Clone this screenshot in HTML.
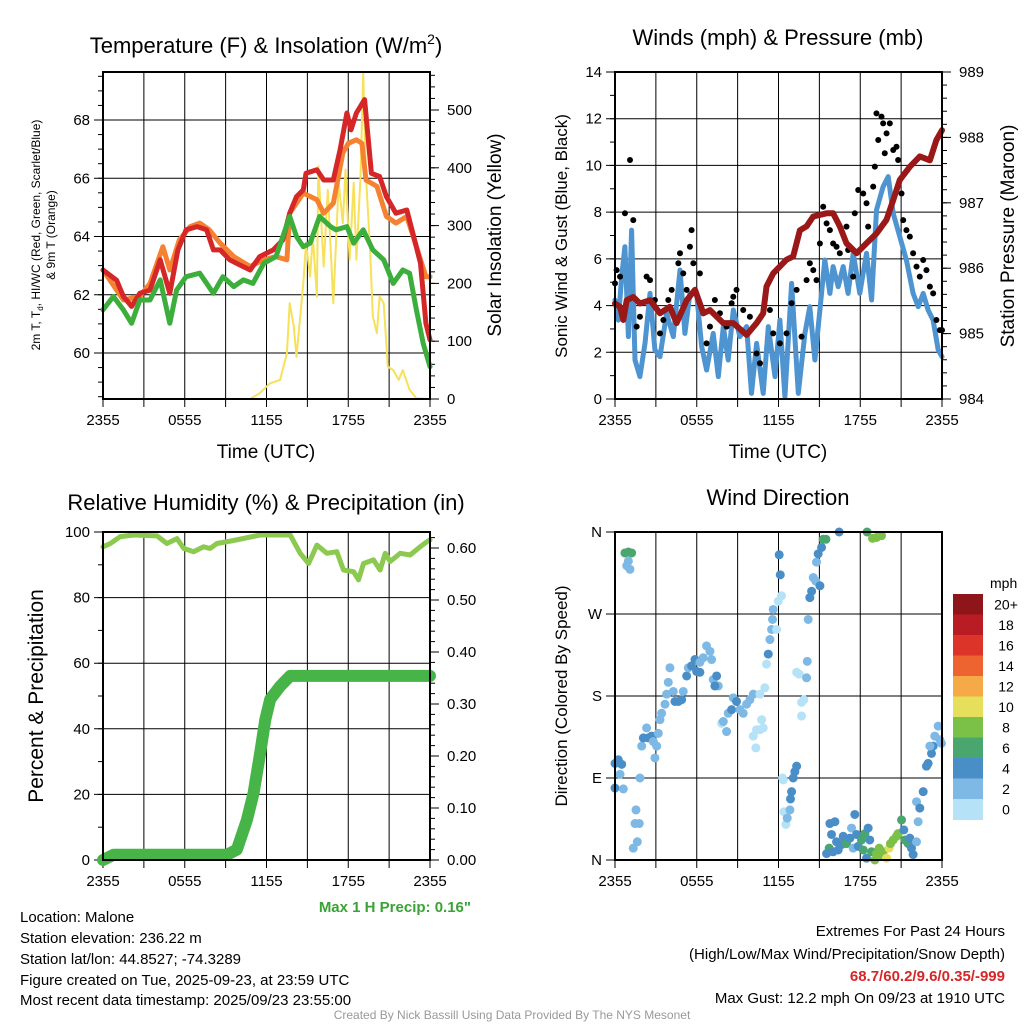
<!DOCTYPE html>
<html><head><meta charset="utf-8">
<style>
html,body{margin:0;padding:0;background:#fff;}
svg{display:block;font-family:"Liberation Sans",Arial,sans-serif;}
</style></head>
<body>
<svg id="chart" width="1024" height="1024" viewBox="0 0 1024 1024" xmlns="http://www.w3.org/2000/svg">
<rect width="1024" height="1024" fill="#fff"/>
<g id="p1"></g>
<g id="p2"></g>
<g id="p3"></g>
<g id="p4"></g>

<text x="266" y="53" font-size="22" text-anchor="middle">Temperature (F) &amp; Insolation (W/m<tspan font-size="14" dy="-9">2</tspan><tspan dy="9">)</tspan></text>
<text x="778" y="45" font-size="22" text-anchor="middle">Winds (mph) &amp; Pressure (mb)</text>
<text x="266" y="510" font-size="22" text-anchor="middle">Relative Humidity (%) &amp; Precipitation (in)</text>
<text x="778" y="505" font-size="22" text-anchor="middle">Wind Direction</text>

<text x="266" y="458" font-size="19" text-anchor="middle">Time (UTC)</text>
<text x="778" y="458" font-size="19" text-anchor="middle">Time (UTC)</text>

<text transform="translate(40,235) rotate(-90)" font-size="12" text-anchor="middle">2m T, T<tspan font-size="8" dy="3">d</tspan><tspan dy="-3">, HI/WC (Red, Green, Scarlet/Blue)</tspan></text>
<text transform="translate(55,235) rotate(-90)" font-size="12" text-anchor="middle">&amp; 9m T (Orange)</text>
<text transform="translate(501,235) rotate(-90)" font-size="19" text-anchor="middle">Solar Insolation (Yellow)</text>
<text transform="translate(567,236) rotate(-90)" font-size="17" text-anchor="middle">Sonic Wind &amp; Gust (Blue, Black)</text>
<text transform="translate(1014,236) rotate(-90)" font-size="19" text-anchor="middle">Station Pressure (Maroon)</text>
<text transform="translate(43,696) rotate(-90)" font-size="21" text-anchor="middle">Percent &amp; Precipitation</text>
<text transform="translate(567,696) rotate(-90)" font-size="17" text-anchor="middle">Direction (Colored By Speed)</text>

<text x="471" y="912" font-size="15" font-weight="bold" fill="#3aa335" text-anchor="end">Max 1 H Precip: 0.16"</text>

<g font-size="15">
<text x="20" y="922">Location: Malone</text>
<text x="20" y="943">Station elevation: 236.22 m</text>
<text x="20" y="964">Station lat/lon: 44.8527; -74.3289</text>
<text x="20" y="985">Figure created on Tue, 2025-09-23, at 23:59 UTC</text>
<text x="20" y="1005">Most recent data timestamp: 2025/09/23 23:55:00</text>
</g>
<g font-size="15" text-anchor="end">
<text x="1005" y="936">Extremes For Past 24 Hours</text>
<text x="1005" y="959">(High/Low/Max Wind/Precipitation/Snow Depth)</text>
<text x="1005" y="981" font-weight="bold" fill="#d62728">68.7/60.2/9.6/0.35/-999</text>
<text x="1005" y="1003">Max Gust: 12.2 mph On 09/23 at 1910 UTC</text>
</g>
<text x="512" y="1019" font-size="12" fill="#999" text-anchor="middle">Created By Nick Bassill Using Data Provided By The NYS Mesonet</text>
</svg>
<script>
// ---------- DATA ----------
const timeLabels = ["2355","0555","1155","1755","2355"];
// Temperature panel
const redHours = [0,1.0,1.5,2.1,2.7,3.45,4.2,4.9,5.5,6.1,6.9,7.6,8.1,8.6,9.3,9.8,10.8,11.5,12.5,13.2,13.7,14.2,14.7,14.9,15.7,16.2,16.9,17.4,17.9,18.2,18.6,19.2,19.7,20.3,20.8,21.5,22.3,22.8,23.3,23.7,24];
const redTemp = [62.85,62.5,61.94,61.6,62.05,62.16,63.2,62.05,63.54,64.23,64.34,64.23,63.54,63.54,63.2,63.08,62.85,63.31,63.54,63.88,64.8,65.37,65.6,66.17,66.29,65.94,65.94,66.98,68.24,67.66,68.24,68.7,66.17,66.06,65.37,64.8,64.91,64.0,63.08,61.02,60.45];
const orangeHours = [0,1.5,2.7,3.45,4.4,4.9,5.6,6.4,7.1,7.8,8.6,9.6,10.8,11.8,12.7,13.5,13.7,14.7,15.7,16.2,16.9,17.6,18.0,18.6,19.0,19.3,20.1,20.8,21.5,22.3,23.0,23.7,24];
const orangeTemp = [62.85,61.82,61.94,62.39,63.65,62.85,63.88,64.34,64.46,64.23,63.77,63.31,62.97,63.2,63.31,63.2,64.8,65.49,65.26,64.8,65.14,66.86,67.2,67.32,67.2,65.94,65.72,64.69,64.46,64.69,63.65,62.62,62.62];
const greenHours = [0,0.76,1.5,2.1,2.7,3.45,4.2,4.9,5.4,6.1,7.1,8.1,8.8,9.6,10.3,11.0,11.8,12.7,13.7,14.2,14.7,15.2,15.9,16.7,17.1,17.9,18.4,19.1,19.8,20.6,21.3,22.0,22.5,23.0,23.5,24];
const greenTemp = [61.48,61.94,61.48,61.02,61.82,61.82,62.51,61.02,62.16,62.62,62.74,62.05,62.62,62.28,62.51,62.39,63.08,63.31,64.69,64.0,63.65,63.77,64.69,64.34,64.23,64.34,63.77,64.23,63.54,63.2,62.39,62.85,62.74,61.48,60.33,59.53];
const solarHours = [0,10.8,11.5,12.25,13.0,13.5,13.7,14.0,14.2,14.7,14.9,15.2,15.4,15.7,15.8,16.2,16.5,16.9,17.3,17.6,17.8,18.1,18.4,18.6,18.9,19.1,19.3,19.6,19.8,20.1,20.3,20.6,20.9,21.3,21.7,22.0,22.5,23.0,24];
const solarWm2 = [0,0,10,27,33,79,166,125,73,200,270,212,281,177,403,229,362,166,374,304,397,241,374,241,385,564,385,258,143,114,177,166,56,50,33,50,16,1,0];
// Wind panel
const windHours = [0,0.24,0.49,0.73,0.98,1.22,1.47,1.83,2.2,2.57,2.93,3.3,3.79,4.28,4.77,5.13,5.5,5.99,6.36,6.72,7.21,7.58,7.95,8.31,8.68,9.17,9.66,10.02,10.39,10.88,11.25,11.74,12.1,12.47,12.96,13.45,13.94,14.3,14.67,15.04,15.4,15.77,16.01,16.38,16.75,17.11,17.48,17.97,18.46,18.83,19.19,19.68,20.05,20.42,20.9,21.39,21.88,22.25,22.62,22.98,23.35,23.72,24];
const windMph = [4.24,3.38,5.24,6.52,2.67,7.23,1.67,0.96,2.38,4.52,2.1,1.81,3.67,2.67,5.52,2.81,4.52,4.52,2.24,1.24,2.81,0.96,3.1,1.67,3.81,2.67,3.1,0.24,2.38,0.24,3.1,0.96,3.38,0.1,4.95,0.24,2.81,3.95,1.67,3.81,5.95,4.52,5.67,4.81,5.67,4.52,6.24,4.52,6.24,4.24,8.09,9.09,9.52,7.95,6.95,5.95,4.52,3.95,4.52,3.81,3.38,2.1,1.81];
const gustHours = [0,0.12,0.37,0.73,1.1,1.34,1.59,1.83,2.32,2.57,2.93,3.3,3.55,3.91,4.16,4.65,4.77,5.01,5.26,5.5,5.62,5.75,6.23,6.48,6.72,6.97,7.33,7.7,8.19,8.56,8.68,8.92,9.41,9.9,10.39,10.64,11.37,11.61,12.1,12.59,12.96,13.33,13.69,14.06,14.3,14.55,14.79,15.04,15.28,15.53,15.77,16.01,16.26,16.5,16.99,17.11,17.48,17.6,17.85,18.22,18.46,18.58,18.95,19.07,19.19,19.32,19.56,19.68,19.8,19.93,20.17,20.42,20.66,20.78,21.03,21.15,21.39,21.64,21.88,22.13,22.37,22.62,22.86,23.11,23.35,23.59,23.84,24];
const gustMph = [4.95,5.52,5.24,7.95,10.23,7.66,3.1,3.52,5.24,5.09,4.24,2.81,3.38,4.24,4.67,5.81,6.24,5.38,4.67,6.52,7.23,5.81,5.38,3.67,2.38,3.1,4.24,3.67,3.1,4.1,4.38,4.67,3.81,3.52,1.95,1.53,3.81,2.81,2.38,2.81,4.1,4.67,2.67,5.09,5.81,5.52,5.09,6.66,8.23,7.52,7.23,6.66,6.52,6.24,7.38,6.38,5.24,7.95,8.95,8.8,8.38,7.38,9.09,9.95,12.23,11.09,12.09,11.8,10.52,11.37,11.8,10.66,10.8,10.23,8.8,7.66,7.23,6.95,6.24,5.67,5.24,5.95,5.52,4.81,4.52,3.38,2.95,2.95];
const presHours = [0,0.37,0.61,0.86,1.34,1.83,2.57,3.3,4.03,4.52,5.26,5.87,6.48,6.97,7.95,8.68,9.66,10.39,10.88,11.12,11.61,12.59,13.08,13.57,14.06,14.55,15.53,16.01,16.5,16.99,17.73,18.46,19.19,19.93,20.42,20.9,21.64,22.37,23.11,23.59,24];
const presMb = [985.46,985.41,985.21,985.51,985.56,985.46,985.51,985.31,985.41,985.16,985.51,985.67,985.31,985.36,985.16,985.16,984.98,985.16,985.31,985.72,985.92,986.13,986.18,986.58,986.64,986.79,986.84,986.84,986.64,986.38,986.23,986.38,986.53,986.74,987.04,987.35,987.55,987.71,987.65,987.96,988.11];
// Humidity panel
const rhHours = [0,0.54,1.27,2.25,3.96,4.69,5.43,5.92,6.65,7.38,7.87,8.36,9.58,11.54,13.74,14.47,15.09,15.7,16.43,17.16,17.65,18.39,18.75,19.12,19.85,20.34,20.71,21.08,21.81,22.54,23.28,23.77,24];
const rhPct = [95.5,96.5,98.6,99.1,98.8,96.5,98,95,94,95.5,95,96.5,97.4,99.1,99.1,93.5,90.4,96,93.5,94,88.4,87.9,85.4,90.4,91.5,88.4,93.5,91,93.5,93,95.5,97,97.6];
const precipHours = [0,0.78,9.1,9.83,10.56,11.05,11.54,11.91,12.27,13.0,13.74,24];
const precipIn = [0,0.01,0.01,0.02,0.077,0.129,0.206,0.27,0.309,0.334,0.354,0.354];
// Wind direction panel
const dirHours = [0,0.24,0.49,0.37,0,0.61,0.73,0.98,1.22,0.98,0.86,1.1,1.83,1.54,1.47,1.78,1.34,1.64,1.96,2.32,2.08,2.44,2.69,2.81,3.06,2.93,3.18,3.3,3.42,3.67,3.79,3.91,4.03,4.28,4.4,4.65,4.89,5.01,5.26,5.38,5.62,5.87,5.99,6.23,6.23,6.48,6.72,6.97,7.09,7.21,7.46,7.58,7.33,7.82,7.95,8.19,8.31,8.56,8.68,8.92,9.17,9.41,9.66,9.9,10.15,10.64,11.0,10.15,10.39,10.64,10.88,10.76,10.34,11.12,11.25,11.37,11.49,11.56,11.61,11.86,11.98,12.22,12.05,12.13,12.3,12.35,12.4,12.54,12.64,12.84,12.88,12.96,13.08,13.2,13.33,13.33,13.52,13.69,13.86,13.69,14.06,14.11,14.18,14.3,14.43,14.55,14.74,14.79,14.91,15.04,15.16,15.28,15.48,16.45,18.5,18.9,19.19,19.56,
15.77,15.89,16.14,16.26,15.72,15.53,16.01,16.38,16.63,16.75,16.99,17.24,17.36,17.48,17.6,17.73,17.85,18.09,18.22,18.34,18.46,18.58,18.7,18.83,19.07,19.19,19.39,19.56,19.68,19.93,20.12,20.22,20.42,20.66,20.78,21.03,21.2,21.27,21.52,21.64,21.76,21.88,22.13,22.25,22.13,22.37,22.62,22.86,22.98,23.23,23.35,23.47,23.72,23.84,23.96,23.11];
const dirDeg = [106,110,105,94,79,78,337,338,337,328,323,319,90,55,40,40,13,20,125,145,134,134,136,130,125,112,139,154,161,171,182,195,211,185,174,174,176,185,202,211,213,220,207,206,217,222,235,229,220,198,202,191,191,150,152,141,161,165,178,174,165,161,171,176,182,182,189,136,143,143,145,154,123,215,226,242,253,264,275,253,284,290,335,313,90,88,53,39,46,55,67,75,90,97,103,206,204,173,176,158,200,218,264,288,295,310,306,327,336,301,343,352,352,360,360,353,354,356,
40,28,42,20,13,7,9,11,17,26,18,24,35,13,50,28,15,22,11,29,2,35,22,9,0,7,13,4,9,2,13,18,22,26,29,44,33,22,18,24,13,6,20,42,64,57,75,103,106,117,125,136,147,132,128,125];
const dirMph = [5,5,5,3,5,3,7,7,7,3,3,3,3,3,3,3,3,3,3,3,5,5,5,3,3,3,3,3,3,3,3,3,3,3,5,5,5,3,5,3,5,5,5,5,3,3,3,3,3,3,5,3,5,1,3,3,3,5,3,5,3,3,3,3,3,1,1,1,1,1,1,1,1,1,5,3,3,3,3,1,1,1,5,5,1,1,1,1,3,3,5,5,5,5,5,1,1,1,1,1,3,3,3,5,5,3,3,3,5,5,5,7,7,5,7,9,9,9,
5,5,5,5,7,5,5,5,5,5,7,5,3,3,5,5,5,7,7,7,5,5,5,7,9,9,9,9,9,11,11,9,9,9,9,7,5,7,7,5,5,5,3,3,3,5,5,5,5,5,5,3,3,3,3,3];
const speedBins = ["0","2","4","6","8","10","12","14","16","18","20+"];
const speedColors = ["#b5e2f7","#7db9e4","#4a8ec7","#4aa66f","#7cc147","#e6df5b","#f6aa47","#ee6430","#dc3429","#ba1c24","#8e1519"];

// ---------- HELPERS ----------
const NS = "http://www.w3.org/2000/svg";
function mk(parent, tag, attrs){ const e=document.createElementNS(NS,tag); for(const k in attrs) e.setAttribute(k,attrs[k]); parent.appendChild(e); return e; }
function linScale(d0,d1,r0,r1){ return v => r0 + (v-d0)/(d1-d0)*(r1-r0); }
function polyline(g, xs, ys, xS, yS, color, w, name){
  const pts = xs.map((x,i)=>xS(x).toFixed(1)+","+yS(ys[i]).toFixed(1)).join(" ");
  const p = mk(g,"polyline",{points:pts,fill:"none",stroke:color,"stroke-width":w,"stroke-linejoin":"round","stroke-linecap":"round"});
  
  
  return p;
}

function frame(g, L, T, R, B, xS, yTicks, yS, yLabels, yMinor, rTicks, rS, rLabels, rMinor){
  for(let h=0; h<=24; h+=3){
    const x=xS(h);
    const l=mk(g,"line",{x1:x,y1:T,x2:x,y2:B,stroke:"#000","stroke-width":1});
    
    
    const t=mk(g,"line",{x1:x,y1:B,x2:x,y2:B+8,stroke:"#000","stroke-width":1});
    
    
  }
  timeLabels.forEach((lab,i)=>{
    const tx=mk(g,"text",{x:xS(i*6),y:B+26,"font-size":15,"text-anchor":"middle"}); tx.textContent=lab;
    
    
  });
  yTicks.forEach((v,i)=>{
    const y=yS(v);
    const l=mk(g,"line",{x1:L-9,y1:y,x2:R,y2:y,stroke:"#000","stroke-width":1});
    
    
    if(yLabels){ const tx=mk(g,"text",{x:L-13,y:y+5,"font-size":15,"text-anchor":"end"}); tx.textContent=yLabels[i];
      
       }
  });
  yMinor.forEach(v=>{ const y=yS(v); const l=mk(g,"line",{x1:L-5,y1:y,x2:L,y2:y,stroke:"#000","stroke-width":1});
    
     });
  if(rTicks){
    rTicks.forEach((v,i)=>{ const y=rS(v);
      const l=mk(g,"line",{x1:R,y1:y,x2:R+9,y2:y,stroke:"#000","stroke-width":1});
      
      
      const tx=mk(g,"text",{x:R+17,y:y+5,"font-size":15}); tx.textContent=rLabels[i];
      
      
    });
    rMinor.forEach(v=>{ const y=rS(v); const l=mk(g,"line",{x1:R,y1:y,x2:R+5,y2:y,stroke:"#000","stroke-width":1});
      
       });
  }
}
function border(g,L,T,R,B){
  const r=mk(g,"rect",{x:L,y:T,width:R-L,height:B-T,fill:"none",stroke:"#000","stroke-width":2});
  
  
}
function range(a,b,s){ const o=[]; for(let v=a; v<=b+1e-9; v+=s) o.push(+v.toFixed(4)); return o; }

// ---------- PANEL 1 ----------
(function(){
  const g=document.getElementById("p1");
  const L=103,T=72,R=430,B=399;
  const xS=linScale(0,24,L,R);
  const yS=linScale(60,68,353,120);
  const sS=linScale(0,500,399,110);
  frame(g,L,T,R,B,xS,[60,62,64,66,68],yS,["60","62","64","66","68"],range(58.5,69.5,0.5),
        [0,100,200,300,400,500],sS,["0","100","200","300","400","500"],range(0,560,20));
  polyline(g,solarHours,solarWm2,xS,sS,"#f7e15a",2,"solar-insolation-line");
  polyline(g,orangeHours,orangeTemp,xS,yS,"#f58231",5,"temp-9m-line");
  polyline(g,redHours,redTemp,xS,yS,"#d62728",5,"temp-2m-line");
  polyline(g,greenHours,greenTemp,xS,yS,"#3cae3c",5,"dewpoint-line");
  border(g,L,T,R,B);
})();

// ---------- PANEL 2 ----------
(function(){
  const g=document.getElementById("p2");
  const L=615,T=72,R=942,B=399;
  const xS=linScale(0,24,L,R);
  const yS=linScale(0,14,B,T);
  const pS=linScale(984,989,B,T);
  frame(g,L,T,R,B,xS,[0,2,4,6,8,10,12,14],yS,["0","2","4","6","8","10","12","14"],range(0,14,1),
        [984,985,986,987,988,989],pS,["984","985","986","987","988","989"],range(984,989,0.2));
  polyline(g,windHours,windMph,xS,yS,"#4d94d0",5,"sonic-wind-line");
  gustHours.forEach((h,i)=>{
    const c=mk(g,"circle",{cx:xS(h),cy:yS(gustMph[i]),r:3,fill:"#000"});
    
    
  });
  polyline(g,presHours,presMb,xS,pS,"#9b1818",6,"pressure-line");
  border(g,L,T,R,B);
})();

// ---------- PANEL 3 ----------
(function(){
  const g=document.getElementById("p3");
  const L=103,T=532,R=430,B=860;
  const xS=linScale(0,24,L,R);
  const yS=linScale(0,100,B,T);
  const pS=linScale(0,0.6,B,548);
  frame(g,L,T,R,B,xS,[0,20,40,60,80,100],yS,["0","20","40","60","80","100"],range(0,100,10),
        [0,0.1,0.2,0.3,0.4,0.5,0.6],pS,["0.00","0.10","0.20","0.30","0.40","0.50","0.60"],range(0,0.62,0.02));
  polyline(g,rhHours,rhPct,xS,yS,"#8bc94f",5,"relative-humidity-line");
  polyline(g,precipHours,precipIn,xS,pS,"#46b446",12,"precipitation-line");
  border(g,L,T,R,B);
})();

// ---------- PANEL 4 ----------
(function(){
  const g=document.getElementById("p4");
  const L=615,T=532,R=942,B=860;
  const xS=linScale(0,24,L,R);
  const yS=linScale(0,360,B,T);
  frame(g,L,T,R,B,xS,[0,90,180,270,360],yS,["N","E","S","W","N"],[],null);
  dirHours.forEach((h,i)=>{
    const bin=Math.min(10,Math.floor(dirMph[i]/2));
    const c=mk(g,"circle",{cx:xS(h),cy:yS(dirDeg[i]),r:4.5,fill:speedColors[bin]});
    
    
  });
  border(g,L,T,R,B);
  const cb=mk(document.getElementById("chart"),"g",{});
  
  
  const top=594, bh=20.5;
  const t=mk(cb,"text",{x:990,y:588,"font-size":14}); t.textContent="mph";
  
  
  speedBins.slice().reverse().forEach((lab,i)=>{
    const col=speedColors[speedColors.length-1-i];
    const r=mk(cb,"rect",{x:953,y:top+i*bh,width:30,height:bh+0.5,fill:col});
    
    
    const tx=mk(cb,"text",{x:1006,y:top+i*bh+bh/2+5,"font-size":14,"text-anchor":"middle"}); tx.textContent=lab;
    
    
  });
})();
</script>
</body></html>
